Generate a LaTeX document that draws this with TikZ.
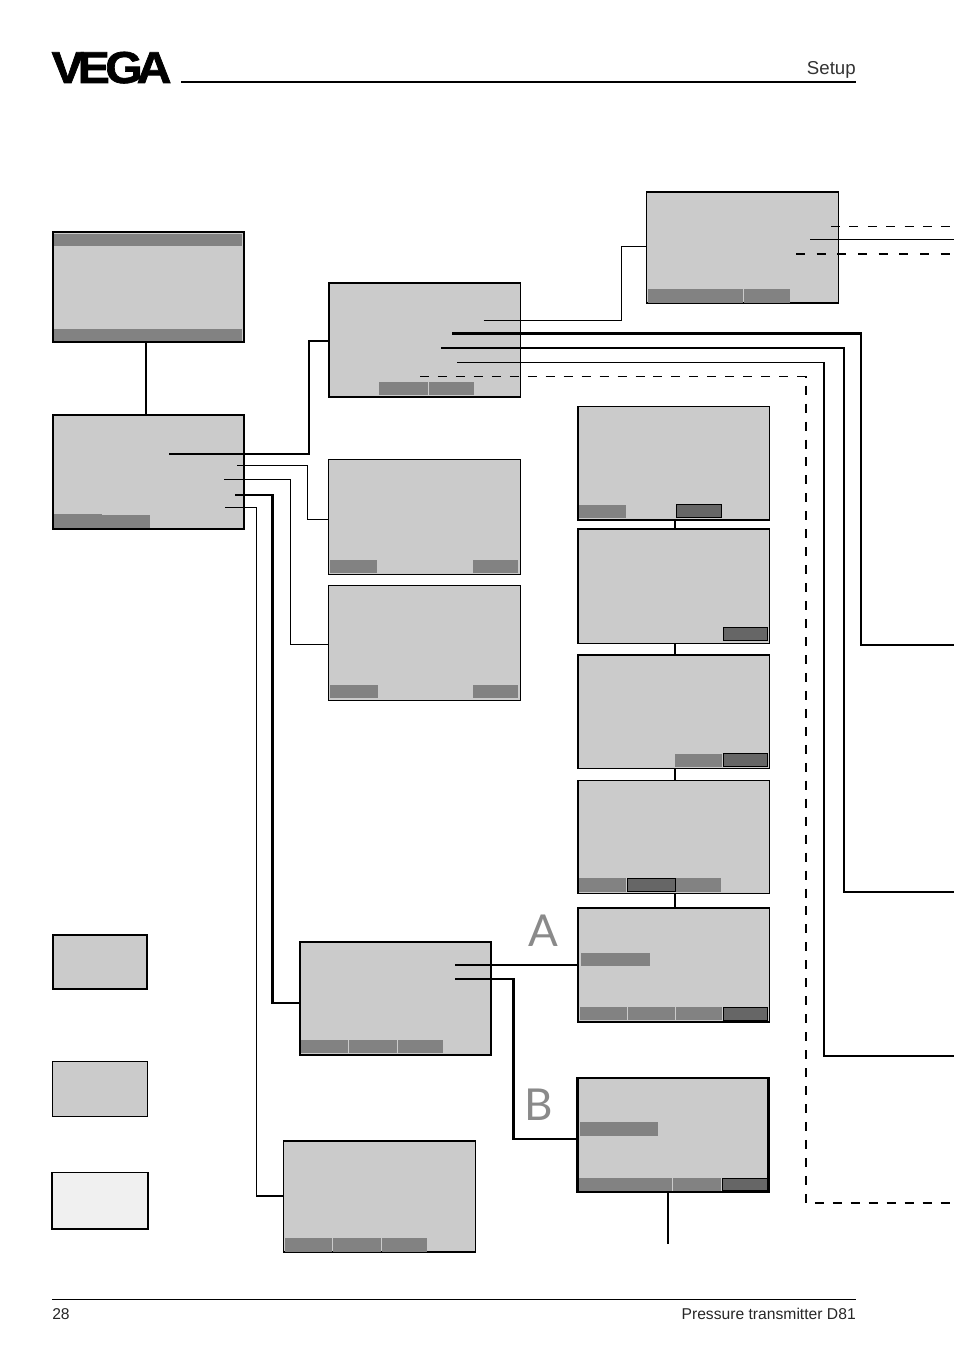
\documentclass[tikz,border=0pt]{standalone}
\usepackage{fontspec}
\setmainfont{Liberation Sans}
\newfontfamily\logofont[FakeBold=1.6,FakeStretch=1.08]{Liberation Sans Bold}
\newfontfamily\labelfont{Lato}
\definecolor{scr}{HTML}{CBCBCB}
\definecolor{barg}{HTML}{828282}
\definecolor{bard}{HTML}{666666}
\definecolor{lab}{HTML}{8A8A8A}
\definecolor{pale}{HTML}{F0F0F0}
\tikzset{
  panel/.style={draw=black,fill=scr,inner sep=0pt,outer sep=0pt,anchor=north west},
  panelthin/.style={panel,line width=0.75pt},
  panelmid/.style={panel,line width=1.25pt},
  panelbold/.style={panel,line width=1.45pt},
  panelthick/.style={panel,line width=1.6pt},
  softkey/.style={fill=barg,draw=none,inner sep=0pt,outer sep=0pt,anchor=north west},
  activekey/.style={fill=bard,draw=black,line width=0.75pt,inner sep=0pt,outer sep=0pt,anchor=north west},
  wirethin/.style={draw=black,line width=0.9pt},
  wiremid/.style={draw=black,line width=1.5pt},
  wirethick/.style={draw=black,line width=2pt},
  wiredash/.style={draw=black,line width=0.9pt,dash pattern=on 6.75pt off 7.05pt},
  wiredashlong/.style={draw=black,line width=0.9pt,dash pattern=on 6.75pt off 6.72pt},
  wiredashb/.style={draw=black,line width=1.6pt,dash pattern=on 6.75pt off 8.75pt},
  biglabel/.style={text=lab,font=\labelfont\fontsize{33}{33}\selectfont,inner sep=0pt,anchor=base},
  smalltext/.style={inner sep=0pt,font=\fontsize{11.75}{12}\selectfont,text=black!85},
}
% #1 style, #2 name, #3 left, #4 top, #5 right, #6 bottom (all in reference pixels)
\newcommand{\boxat}[6]{\node[#1,minimum width={(#5-#3)*0.75pt},minimum height={(#6-#4)*0.75pt}] (#2) at (#3,#4) {};}
\begin{document}
\begin{tikzpicture}[x=0.75pt,y=-0.75pt]
\useasboundingbox (0,0) rectangle (954,1352);
% header and footer
\node[inner sep=0pt,anchor=base west,font=\logofont\fontsize{33.5}{34}\selectfont] (logo) at (52,83) {\kern-0.5pt V\kern-4.6pt E\kern-3.4pt G\kern-4.6pt A};
\coordinate (hruleA) at (181,82);
\coordinate (hruleB) at (856,82);
\draw[line width=1.5pt] (hruleA) -- (hruleB);
\node[inner sep=0pt,anchor=base east,font=\fontsize{14}{15}\selectfont,text=black!80] (setup) at (856,75) {Setup};
\coordinate (fruleA) at (52,1299.5);
\coordinate (fruleB) at (856,1299.5);
\draw[line width=0.75pt] (fruleA) -- (fruleB);
\node[smalltext,anchor=base west] (page) at (52,1319) {28};
\node[smalltext,anchor=base east] (title) at (856,1319) {Pressure transmitter D81};
% free wire ends
\coordinate (e1) at (954,226.5);
\coordinate (e2) at (954,239.5);
\coordinate (e3) at (954,254);
\coordinate (e4) at (954,645);
\coordinate (e5) at (954,891.5);
\coordinate (e6) at (954,1056);
\coordinate (e7) at (954,1203);
\coordinate (e8) at (667.5,1244);
% panels
\boxat{panelthick}{p1}{53}{232}{244}{342}
\boxat{panelthick}{p2}{53}{415}{244}{529}
\boxat{panelbold}{p3}{329}{283}{520.5}{397}
\boxat{panelmid}{p4}{646.5}{192}{838.5}{303}
\boxat{panelthin}{p5}{328.5}{459.5}{520.5}{574.5}
\boxat{panelthin}{p6}{328.5}{585.5}{520.5}{700.5}
\boxat{panelbold}{p7}{578}{406.5}{769.5}{520}
\boxat{panelbold}{p8}{578}{529}{769.5}{643.5}
\boxat{panelbold}{p9}{578}{655}{769.5}{768.5}
\boxat{panelbold}{p10}{578}{780.5}{769.5}{893.5}
\boxat{panelbold}{p11}{578}{908}{769.5}{1022}
\boxat{panelbold}{p12}{300}{942}{491}{1055}
\boxat{panelthick}{p13}{577.5}{1078}{768.5}{1192}
\boxat{panelmid}{p14}{283.5}{1141}{475.5}{1252}
\boxat{panelthick}{l1}{53}{935}{147}{989}
\boxat{panelthin}{l2}{52.5}{1061.5}{147.5}{1116.5}
\node[panelmid,fill=pale,minimum width={96*0.75pt},minimum height={56.5*0.75pt}] (l3) at (52,1172.5) {};
% soft keys
\boxat{softkey}{k1a}{54}{233.5}{242}{246}
\boxat{softkey}{k1b}{54}{329}{242}{341}
\boxat{softkey}{k2a}{54}{514}{102}{527.5}
\boxat{softkey}{k2b}{102}{515}{150}{527.5}
\boxat{softkey}{k3a}{379}{382}{427.5}{395}
\boxat{softkey}{k3b}{428.5}{382}{474}{395}
\boxat{softkey}{k4a}{647.5}{289}{742.5}{302.5}
\boxat{softkey}{k4b}{743.5}{289}{790}{302.5}
\boxat{softkey}{k5a}{330}{560}{377}{572.5}
\boxat{softkey}{k5b}{473}{560}{518}{572.5}
\boxat{softkey}{k6a}{330}{685}{378}{697.5}
\boxat{softkey}{k6b}{473}{685}{518}{697.5}
\boxat{softkey}{k7a}{579}{504.5}{626}{518}
\boxat{activekey}{k7b}{676.5}{504.5}{721}{517}
\boxat{activekey}{k8a}{723}{627.5}{767}{640.5}
\boxat{softkey}{k9a}{675}{754}{722}{767}
\boxat{activekey}{k9b}{723}{753.5}{767}{766.5}
\boxat{softkey}{k10a}{579}{878}{626}{892}
\boxat{activekey}{k10b}{627.5}{878.5}{675}{891.5}
\boxat{softkey}{k10c}{676}{878}{721}{892}
\boxat{softkey}{m11}{581}{953}{650}{966}
\boxat{softkey}{k11a}{580}{1007}{627}{1020}
\boxat{softkey}{k11b}{628}{1007}{675}{1020}
\boxat{softkey}{k11c}{676}{1007}{722}{1020}
\boxat{activekey}{k11d}{723.5}{1007.5}{767}{1020}
\boxat{softkey}{k12a}{301}{1040}{348}{1053}
\boxat{softkey}{k12b}{349}{1040}{397}{1053}
\boxat{softkey}{k12c}{398}{1040}{443}{1053}
\boxat{softkey}{m13}{580}{1122}{658}{1136}
\boxat{softkey}{k13a}{579}{1178}{672}{1191}
\boxat{softkey}{k13b}{673}{1178}{721}{1191}
\boxat{activekey}{k13c}{722.5}{1178.5}{767}{1190.5}
\boxat{softkey}{k14a}{285}{1238}{332}{1251.5}
\boxat{softkey}{k14b}{333}{1238}{381}{1251.5}
\boxat{softkey}{k14c}{382}{1238}{427}{1251.5}
% wires: start points inside panels
\coordinate (s2a) at (169,453.7);
\coordinate (s2b) at (237,465.5);
\coordinate (s2c) at (224,479.5);
\coordinate (s2d) at (235,495);
\coordinate (s2e) at (225,507.5);
\coordinate (s3a) at (483.5,320.5);
\coordinate (s3b) at (452,333.5);
\coordinate (s3c) at (441,348);
\coordinate (s3d) at (457,362.5);
\coordinate (s3e) at (420,376.5);
\coordinate (s4a) at (831,226.5);
\coordinate (s4b) at (810,239.5);
\coordinate (s4c) at (796,254);
\coordinate (s12a) at (455,965);
\coordinate (s12b) at (455,979);
% vertical chain
\draw[wiremid] (p1.south -| 146,0) -- (p2.north -| 146,0);
\draw[wiremid] (p7.south -| 675,0) -- (p8.north -| 675,0);
\draw[wiremid] (p8.south -| 675,0) -- (p9.north -| 675,0);
\draw[wiremid] (p9.south -| 675,0) -- (p10.north -| 675,0);
\draw[wiremid] (p10.south -| 675,0) -- (p11.north -| 675,0);
\draw[wiremid] (p13.south -| 667.5,0) -- (e8);
% wires from panel 2
\draw[wiremid] (s2a) -- (309,453.7) -- (309,340.5) -- (p3.west |- 0,340.5);
\draw[wirethin] (s2b) -- (307.5,465.5) -- (307.5,519.5) -- (p5.west |- 0,519.5);
\draw[wirethin] (s2c) -- (290.5,479.5) -- (290.5,644.5) -- (p6.west |- 0,644.5);
\draw[wirethick] (s2d) -- (272.5,495) -- (272.5,1003) -- (p12.west |- 0,1003);
\draw[wirethin] (s2e) -- (256.5,507.5) -- (256.5,1196) -- (p14.west |- 0,1196);
% wires from panel 3
\draw[wirethin] (s3a) -- (621.5,320.5) -- (621.5,246.5) -- (p4.west |- 0,246.5);
\draw[wirethick] (s3b) -- (861,333.5) -- (861,645) -- (e4);
\draw[wiremid] (s3c) -- (844,348) -- (844,891.5) -- (e5);
\draw[wirethin] (s3d) -- (824,362.5) -- (824,1056) -- (e6);
\draw[wiredashlong] (s3e) -- (806,376.5) -- (806,1203) -- (e7);
% wires from panel 4
\draw[wiredash] (s4a) -- (e1);
\draw[wirethin] (s4b) -- (e2);
\draw[wiredashb] (s4c) -- (e3);
% wires from panel 12
\draw[wiremid] (s12a) -- (p11.west |- s12a);
\draw[wirethick] (s12b) -- (513.5,979) -- (513.5,1139) -- (p13.west |- 0,1139);
% big letters
\node[biglabel] (A) at (543.5,946) {A};
\node[biglabel] (B) at (539,1120) {B};
\end{tikzpicture}
\end{document}
